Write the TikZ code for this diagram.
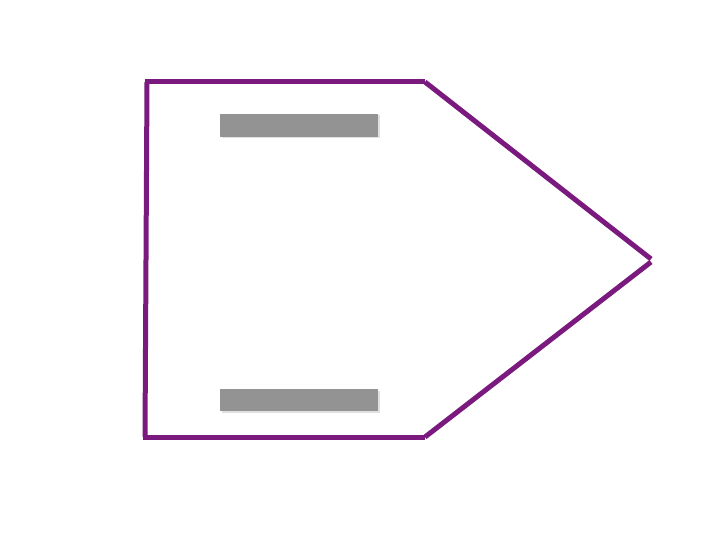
\documentclass[tikz,border=0pt]{standalone}
\definecolor{edgepurple}{HTML}{7B1A7E}
\definecolor{bargrey}{HTML}{939393}
\begin{document}
\begin{tikzpicture}[x=1pt,y=-1pt,
  edge/.style={draw=edgepurple,line width=5pt},
  bar/.style={fill=bargrey,draw=none}]
\useasboundingbox (0,0) rectangle (720,540);
\coordinate (tl) at (147,82);
\coordinate (tr) at (425,82);
\coordinate (tip1) at (651,259);
\coordinate (tip2) at (651,262);
\coordinate (br) at (425,437);
\coordinate (bl) at (145,437);
\fill[black!12] (221.5,115.5) rectangle (379.5,138.5);
\fill[black!12] (221.5,390.5) rectangle (379.5,412.5);
\path[bar] (220,114) rectangle (378,137);
\path[bar] (220,389) rectangle (378,411);
\draw[edge] ([xshift=-2.5pt]tl) -- (tr);
\draw[edge] (tl) -- (bl);
\draw[edge] ([xshift=-2.5pt]bl) -- (br);
\draw[edge] (tr) -- (tip1);
\draw[edge] (tip2) -- (br);
\end{tikzpicture}
\end{document}
